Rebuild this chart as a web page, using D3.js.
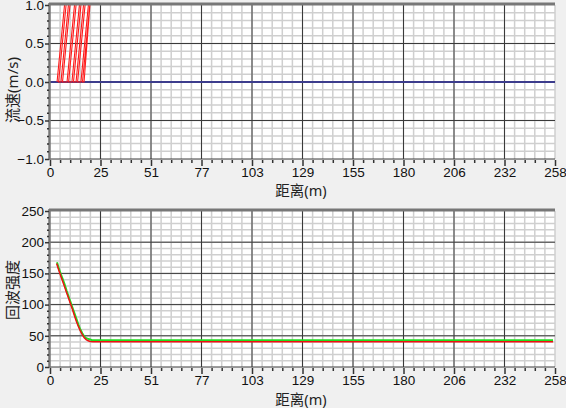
<!DOCTYPE html>
<html>
<head>
<meta charset="utf-8">
<script src="https://cdn.jsdelivr.net/npm/d3@7"></script>
<style>
  body { margin: 0; background: #f0f0f0; }
  svg { display: block; font-family: "Noto Sans", "Noto Sans CJK SC", sans-serif; }
</style>
</head>
<body>
<svg id="chart" width="566" height="408"></svg>
<script>
// x axis (distance, m) tick labels shared by both plots
const distTicks = [0, 25.8, 51.6, 77.4, 103.2, 129, 154.8, 180.6, 206.4, 232.2, 258];
const distLabels = ["0", "25", "51", "77", "103", "129", "155", "180", "206", "232", "258"];

// velocity trace: distance / speed pairs (clipped at the top)
const velDist = [3.6, 7.8, 8.6, 4.4, 5.6, 9.8, 10.6, 6.4, 8.7, 12.9, 13.7, 9.5, 11.2, 15.4, 16.2, 12.0,
                 13.3, 17.5, 18.3, 14.1, 15.8, 20.0, 20.7, 16.6, 17.4, 20.4];
const velVal  = [0, 1.1, 1.1, 0, 0, 1.1, 1.1, 0, 0, 1.1, 1.1, 0, 0, 1.1, 1.1, 0,
                 0, 1.1, 1.1, 0, 0, 1.1, 1.1, 0, 0, 1.0];
const velTicks = [-1.0, -0.5, 0.0, 0.5, 1.0];

// echo intensity, two series
const echoDistRed = [3.4, 4.5, 5.5, 6.5, 7.5, 8.5, 9.5, 10.5, 11.5, 12.5, 13.5, 14.5, 15.5, 16.5, 17.5, 18.5, 19.5, 20.5, 22, 257];
const echoRed     = [166, 155, 146, 137, 128, 119, 110, 101, 92, 82, 73, 65, 58, 52, 47, 44, 42, 41, 40.5, 40.5];
const echoDistGreen = [3.6, 4.5, 5.5, 6.5, 7.5, 8.5, 9.5, 10.5, 11.5, 12.5, 13.5, 14.5, 15.5, 16.5, 17.5, 18.5, 19.5, 20.5, 21.5, 257];
const echoGreen     = [168, 158, 149, 141, 132, 122, 113, 104, 95, 86, 77, 68, 60, 54, 49, 46, 45, 44, 43, 43];
const echoTicks = [0, 50, 100, 150, 200, 250];

const svg = d3.select("#chart");

function panel(opts) {
  const x = d3.scaleLinear().domain([0, 258]).range([50, 555]);
  const y = d3.scaleLinear().domain(opts.yDomain).range([opts.bottom, opts.top]);
  const g = svg.append("g");
  const clipId = "clip" + opts.id;

  g.append("clipPath").attr("id", clipId)
    .append("rect").attr("x", 50).attr("y", opts.top).attr("width", 505).attr("height", opts.bottom - opts.top);

  g.append("rect").attr("x", 50).attr("y", opts.top)
    .attr("width", 505).attr("height", opts.bottom - opts.top).attr("fill", "#fff");

  // minor grid
  const xMinor = d3.range(0, 50).map(i => 258 * i / 50).filter(v => v > 0);
  const yMinor = d3.range(1, opts.nMinor).map(i => opts.yDomain[0] + (opts.yDomain[1] - opts.yDomain[0]) * i / opts.nMinor);
  g.selectAll(".xm").data(xMinor).enter().append("line")
    .attr("x1", d => x(d)).attr("x2", d => x(d)).attr("y1", opts.top).attr("y2", opts.bottom)
    .attr("stroke", "#cfcfcf").attr("stroke-width", 1.5);
  g.selectAll(".ym").data(yMinor).enter().append("line")
    .attr("x1", 50).attr("x2", 555).attr("y1", d => y(d)).attr("y2", d => y(d))
    .attr("stroke", "#cfcfcf").attr("stroke-width", 1.5);
  g.append("line").attr("x1", 555).attr("x2", 555).attr("y1", opts.top).attr("y2", opts.bottom)
    .attr("stroke", "#cfcfcf").attr("stroke-width", 1.5);

  // major grid
  g.selectAll(".xM").data(distTicks.slice(1, -1)).enter().append("line")
    .attr("x1", d => x(d)).attr("x2", d => x(d)).attr("y1", opts.top).attr("y2", opts.bottom)
    .attr("stroke", "#3a3a3a").attr("stroke-width", 1);
  g.selectAll(".yM").data(opts.yTicks.slice(0, -1)).enter().append("line")
    .attr("x1", 50).attr("x2", 555).attr("y1", d => y(d)).attr("y2", d => y(d))
    .attr("stroke", "#3a3a3a").attr("stroke-width", 1);

  opts.draw(g, x, y, clipId);

  // border: thick top & left
  g.append("line").attr("x1", 49).attr("x2", 555).attr("y1", opts.top - 1).attr("y2", opts.top - 1)
    .attr("stroke", "#777").attr("stroke-width", 3);
  g.append("line").attr("x1", 49.5).attr("x2", 49.5).attr("y1", opts.top - 2).attr("y2", opts.bottom + 1)
    .attr("stroke", "#777").attr("stroke-width", 2.5);

  // bottom axis
  const xAxis = d3.axisBottom(x).tickValues(distTicks).tickFormat((d, i) => distLabels[i])
    .tickSize(6).tickPadding(1);
  const ax = g.append("g").attr("transform", `translate(0,${opts.bottom + 1})`).call(xAxis);
  ax.select(".domain").remove();
  ax.selectAll("line").attr("stroke", "#333").attr("stroke-width", 1.5);
  ax.selectAll("text").attr("font-size", 13.5).attr("fill", "#111");
  const axm = d3.axisBottom(x).tickValues(xMinor.filter((d, i) => (i + 1) % 5 !== 0)).tickSize(3).tickFormat("");
  const axmg = g.append("g").attr("transform", `translate(0,${opts.bottom + 1})`).call(axm);
  axmg.select(".domain").remove();
  axmg.selectAll("line").attr("stroke", "#333").attr("stroke-width", 1.5);

  // left axis
  const yAxis = d3.axisLeft(y).tickValues(opts.yTicks).tickFormat(opts.fmt).tickSize(4).tickPadding(1);
  const ay = g.append("g").attr("transform", "translate(49,0)").call(yAxis);
  ay.select(".domain").remove();
  ay.selectAll("line").attr("stroke", "#333").attr("stroke-width", 1.5);
  ay.selectAll("text").attr("font-size", 13.5).attr("fill", "#111");
  const aym = d3.axisLeft(y).tickValues(yMinor.filter((d, i) => (i + 1) % 5 !== 0)).tickSize(2).tickFormat("");
  const aymg = g.append("g").attr("transform", "translate(49,0)").call(aym);
  aymg.select(".domain").remove();
  aymg.selectAll("line").attr("stroke", "#333").attr("stroke-width", 1.5);

  g.append("text").attr("x", 301).attr("y", opts.xTitleY).attr("text-anchor", "middle")
    .attr("font-size", 14.5).attr("fill", "#222").text("距离(m)");
  g.append("text").attr("transform", `translate(18,${opts.yTitleY}) rotate(-90)`)
    .attr("text-anchor", "middle").attr("font-size", 15).attr("fill", "#222").text(opts.yTitle);
}

panel({
  id: 1, top: 5, bottom: 159, yDomain: [-1, 1], yTicks: velTicks, nMinor: 20,
  fmt: d3.format(".1f"), xTitleY: 196, yTitleY: 90, yTitle: "流速(m/s)",
  draw: (g, x, y, clipId) => {
    g.append("line").attr("x1", 50).attr("x2", 555).attr("y1", y(0)).attr("y2", y(0))
      .attr("stroke", "#3c3c8c").attr("stroke-width", 2);
    const pts = velDist.map((d, i) => [d, velVal[i]]);
    g.append("path").datum(pts).attr("clip-path", `url(#${clipId})`)
      .attr("d", d3.line().x(d => x(d[0])).y(d => y(d[1])))
      .attr("fill", "none").attr("stroke", "#ff1a1a").attr("stroke-width", 1.1);
  }
});

panel({
  id: 2, top: 211, bottom: 367, yDomain: [0, 250], yTicks: echoTicks, nMinor: 25,
  fmt: d3.format("d"), xTitleY: 405, yTitleY: 290, yTitle: "回波强度",
  draw: (g, x, y, clipId) => {
    const line = d3.line().x(d => x(d[0])).y(d => y(d[1]));
    g.append("path").datum(echoDistGreen.map((d, i) => [d, echoGreen[i]]))
      .attr("d", line).attr("fill", "none").attr("stroke", "#22dd22").attr("stroke-width", 2);
    g.append("path").datum(echoDistRed.map((d, i) => [d, echoRed[i]]))
      .attr("d", line).attr("fill", "none").attr("stroke", "#ee1111").attr("stroke-width", 1.5);
  }
});
</script>
</body>
</html>
